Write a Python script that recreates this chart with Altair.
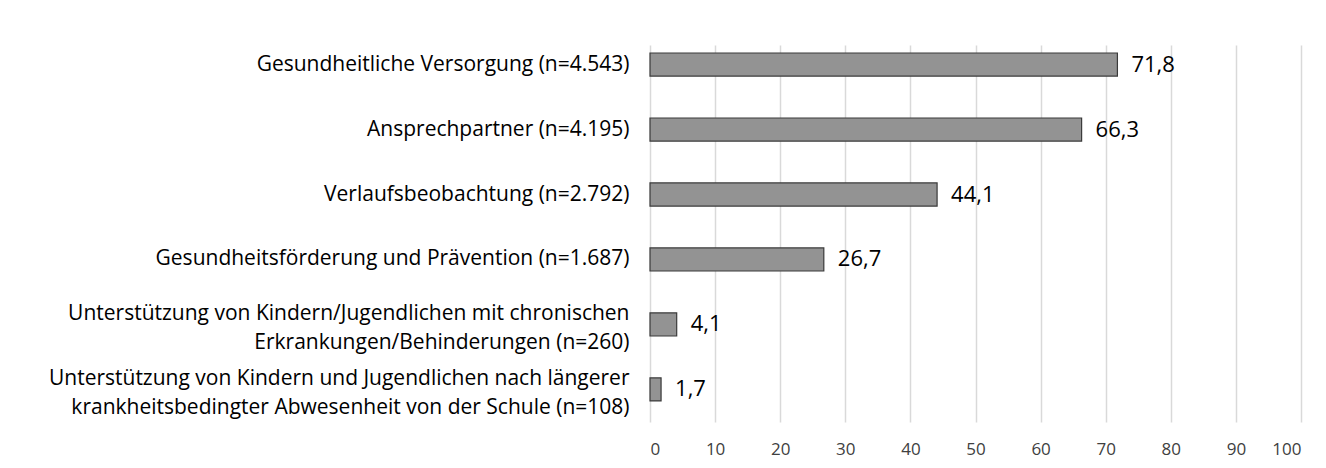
import altair as alt
import pandas as pd

categories = [
    "Gesundheitliche Versorgung (n=4.543)",
    "Ansprechpartner (n=4.195)",
    "Verlaufsbeobachtung (n=2.792)",
    "Gesundheitsförderung und Prävention (n=1.687)",
    "Unterstützung von Kindern/Jugendlichen mit chronischen\nErkrankungen/Behinderungen (n=260)",
    "Unterstützung von Kindern und Jugendlichen nach längerer\nkrankheitsbedingter  Abwesenheit von der Schule (n=108)",
]
values = [71.8, 66.3, 44.1, 26.7, 4.1, 1.7]
x_ticks = [0, 10, 20, 30, 40, 50, 60, 70, 80, 90, 100]

df = pd.DataFrame({"cat": categories, "val": values})

FONT = "Open Sans"

y_scale = alt.Scale(paddingInner=0.645, paddingOuter=0.2236, align=0.276)

y_enc = alt.Y(
    "cat:N",
    sort=None,
    title=None,
    scale=y_scale,
    axis=alt.Axis(
        labelExpr="split(datum.label, '\\n')",
        labelFont=FONT,
        labelFontSize=21,
        labelColor="#000000",
        labelLineHeight=29,
        labelPadding=21,
        labelAlign="right",
        labelBaseline={
            "condition": {"test": "indexof(datum.value, '\\n') >= 0", "value": "bottom"},
            "value": "middle",
        },
        labelLimit=700,
        ticks=False,
        domain=False,
        grid=False,
    ),
)

x_enc = alt.X(
    "val:Q",
    title=None,
    scale=alt.Scale(domain=[0, 100], nice=False),
    axis=alt.Axis(
        values=x_ticks,
        labelFont=FONT,
        labelFontSize=17,
        labelColor="#404040",
        labelPadding=19,
        ticks=False,
        domain=False,
        grid=True,
        gridColor="#d9d9d9",
        gridWidth=1.5,
    ),
)

bars = alt.Chart(df).mark_bar(
    color="#939393", stroke="#3a3a3a", strokeWidth=1.2
).encode(x=x_enc, y=y_enc)

labels = alt.Chart(df).transform_calculate(
    lbl="replace(format(datum.val, '.1f'), '.', ',')"
).mark_text(
    align="left", baseline="middle", dx=14, font=FONT, fontSize=22, color="#000000"
).encode(x="val:Q", y=alt.Y("cat:N", sort=None, scale=y_scale), text="lbl:N")

chart = (
    alt.layer(bars, labels)
    .properties(
        width=651,
        height=377,
        autosize=alt.AutoSizeParams(type="none"),
        padding={"left": 642, "top": 37, "right": 17, "bottom": 40},
        background="#ffffff",
    )
    .configure_view(stroke=None)
)

chart.save("out.html", embed_options={"renderer": "svg", "actions": False})
